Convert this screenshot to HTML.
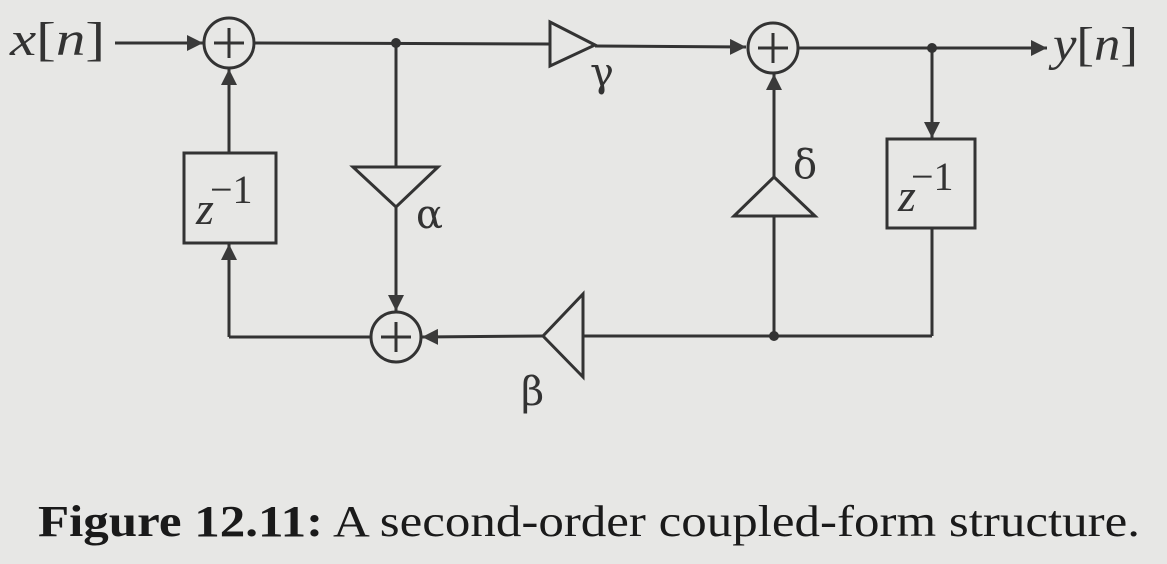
<!DOCTYPE html>
<html><head><meta charset="utf-8"><style>
html,body{margin:0;padding:0;background:#e7e7e5;}
svg{display:block;}
</style></head><body>
<svg width="1167" height="564" viewBox="0 0 1167 564" xmlns="http://www.w3.org/2000/svg">
<defs>
<marker id="a" viewBox="0 0 10 10" refX="10" refY="5" markerWidth="16" markerHeight="16" markerUnits="userSpaceOnUse" orient="auto">
<path d="M0,0 L10,5 L0,10 z" fill="#3a3a3a"/>
</marker>
</defs>
<rect width="1167" height="564" fill="#e7e7e5"/>
<g stroke="#333" stroke-width="3" fill="none">
<line x1="115" y1="43" x2="203" y2="43" marker-end="url(#a)"/>
<line x1="255" y1="43" x2="550" y2="44"/>
<polygon points="550,22 550,66 595,45" fill="none"/>
<line x1="595" y1="46" x2="746" y2="47" marker-end="url(#a)"/>
<line x1="799" y1="48" x2="1047" y2="48" marker-end="url(#a)"/>
<circle cx="229" cy="43" r="25"/>
<line x1="214" y1="43" x2="244" y2="43"/><line x1="229" y1="28" x2="229" y2="58"/>
<circle cx="773" cy="48" r="25"/>
<line x1="758" y1="48" x2="788" y2="48"/><line x1="773" y1="33" x2="773" y2="63"/>
<circle cx="396" cy="337" r="25"/>
<line x1="381" y1="337" x2="411" y2="337"/><line x1="396" y1="322" x2="396" y2="352"/>
<line x1="396" y1="43" x2="396" y2="167"/>
<polygon points="353,167 438,167 396,207"/>
<line x1="396" y1="207" x2="396" y2="311" marker-end="url(#a)"/>
<rect x="184" y="153" width="92" height="90"/>
<line x1="229" y1="153" x2="229" y2="69" marker-end="url(#a)"/>
<line x1="370" y1="337" x2="229" y2="337"/>
<line x1="229" y1="337" x2="229" y2="244" marker-end="url(#a)"/>
<line x1="932" y1="48" x2="932" y2="138" marker-end="url(#a)"/>
<rect x="887" y="139" width="88" height="89"/>
<line x1="932" y1="228" x2="932" y2="336"/>
<line x1="932" y1="336" x2="583" y2="336"/>
<polygon points="583,294 583,377 543,336"/>
<line x1="543" y1="336" x2="422" y2="337" marker-end="url(#a)"/>
<line x1="774" y1="336" x2="774" y2="216"/>
<polygon points="734,216 815,216 774,177"/>
<line x1="774" y1="177" x2="774" y2="74" marker-end="url(#a)"/>
</g>
<g fill="#333">
<circle cx="396" cy="43" r="5"/><circle cx="932" cy="48" r="5"/><circle cx="774" cy="336" r="5"/>
</g>
<g font-family="Liberation Serif, serif" fill="#333">
<text x="10" y="55" font-size="48" textLength="95" lengthAdjust="spacingAndGlyphs"><tspan font-style="italic">x</tspan>[<tspan font-style="italic">n</tspan>]</text>
<text x="1053" y="60" font-size="48" textLength="85" lengthAdjust="spacingAndGlyphs"><tspan font-style="italic">y</tspan>[<tspan font-style="italic">n</tspan>]</text>
<text x="196" y="224" font-size="46" font-style="italic">z</text>
<text x="210" y="203" font-size="40">−1</text>
<text x="898" y="211" font-size="46" font-style="italic">z</text>
<text x="911" y="190" font-size="40">−1</text>
</g>
<g font-family="DejaVu Serif, serif" fill="#333" font-size="40">
<text x="590" y="86">γ</text>
<text x="416" y="228">α</text>
<text x="793" y="178">δ</text>
<text x="521" y="405">β</text>
</g>
<text x="38" y="536" font-family="Liberation Serif, serif" font-size="44" fill="#1a1a1a" textLength="1102" lengthAdjust="spacingAndGlyphs"><tspan font-weight="bold">Figure 12.11:</tspan> A second-order coupled-form structure.</text>
</svg>
</body></html>
